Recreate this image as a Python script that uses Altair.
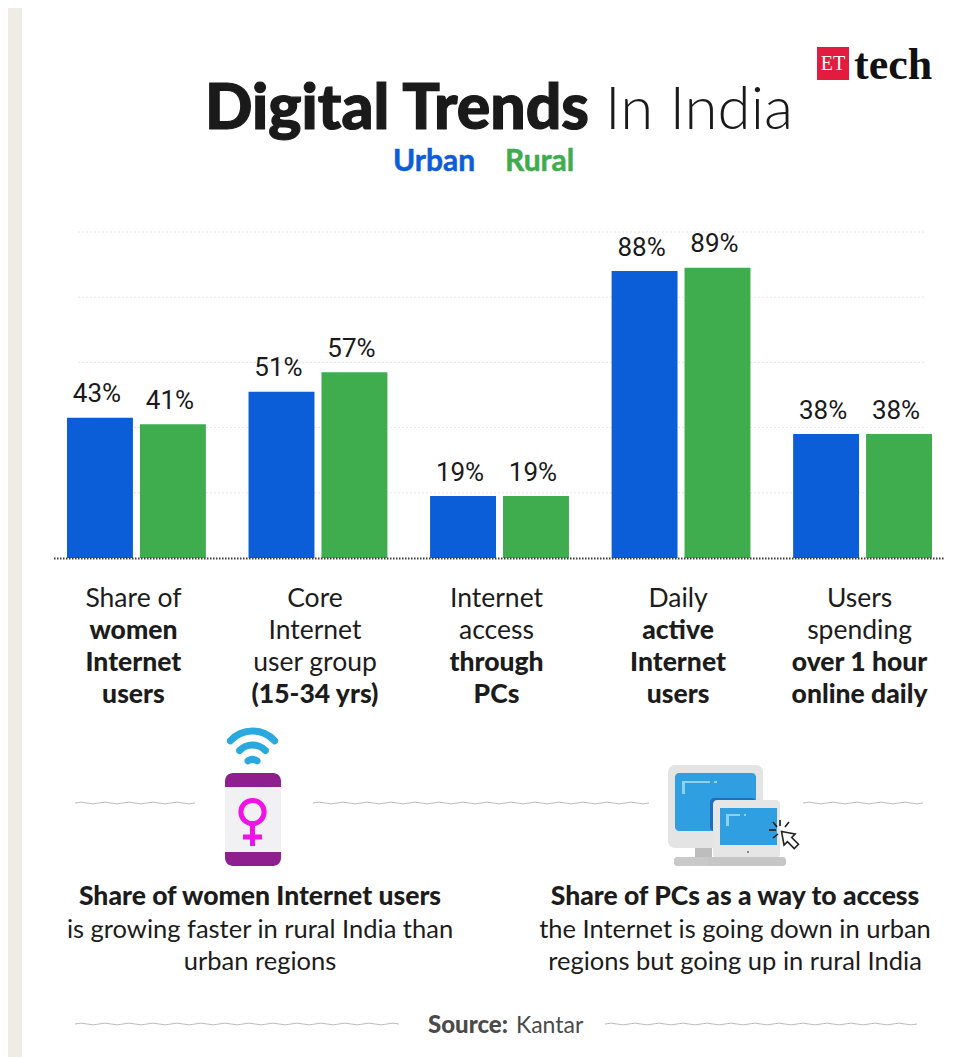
import altair as alt
import pandas as pd
import math

# ---------- data ----------
categories = ["Women users", "Core group", "PC access", "Daily active", "Over 1 hour"]
urban = [43, 51, 19, 88, 38]
rural = [41, 57, 19, 89, 38]
gridlines = [20, 40, 60, 80, 100]
series_names = ["Urban", "Rural"]
series_colors = ["#0b5ed7", "#3fac4d"]

cat_lines = [
    [("Share of", "r"), ("women", "b"), ("Internet", "b"), ("users", "b")],
    [("Core", "r"), ("Internet", "r"), ("user group", "r"), ("(15-34 yrs)", "b")],
    [("Internet", "r"), ("access", "r"), ("through", "b"), ("PCs", "b")],
    [("Daily", "r"), ("active", "b"), ("Internet", "b"), ("users", "b")],
    [("Users", "r"), ("spending", "r"), ("over 1 hour", "b"), ("online daily", "b")],
]

rows = []
for c, u, r in zip(categories, urban, rural):
    rows.append({"cat": c, "series": "Urban", "v": u, "lab": f"{u}%"})
    rows.append({"cat": c, "series": "Rural", "v": r, "lab": f"{r}%"})
bars = pd.DataFrame(rows)

OX, OY = 8, 8  # page margin
W, H = 961, 1049
FONT = "Lato"
INK = "#1c1c1c"

x_enc = alt.X("cat:N", axis=None, title=None,
              scale=alt.Scale(domain=categories, range=[67 - OX, 932 - OX],
                              paddingInner=0.235, paddingOuter=0))
xo_enc = alt.XOffset("series:N", title=None,
                     scale=alt.Scale(domain=series_names, paddingInner=0.096, paddingOuter=0))
y_enc = alt.Y("v:Q", axis=None, title=None,
              scale=alt.Scale(domain=[0, 100], range=[558 - OY, 232 - OY], nice=False, zero=True))
c_enc = alt.Color("series:N", legend=None,
                  scale=alt.Scale(domain=series_names, range=series_colors))

one = pd.DataFrame({"a": [1]})


def rect(x1, x2, y1, y2, color, corner=0):
    return alt.Chart(one).mark_rect(color=color, cornerRadius=corner).encode(
        x=alt.value(x1 - OX), x2=alt.value(x2 - OX), y=alt.value(y1 - OY), y2=alt.value(y2 - OY))


def seg(x1, x2, y1, y2, color, width=1.0, dash=None, cap="butt"):
    kw = {"strokeDash": dash} if dash else {}
    return alt.Chart(one).mark_rule(color=color, strokeWidth=width, strokeCap=cap, **kw).encode(
        x=alt.value(x1 - OX), x2=alt.value(x2 - OX), y=alt.value(y1 - OY), y2=alt.value(y2 - OY))


def label(txt, x, y, size, weight=400, color=INK, align="center", font=FONT, heavy=0):
    kw = {"stroke": color, "strokeWidth": heavy} if heavy else {}
    return alt.Chart(pd.DataFrame({"t": [txt]})).mark_text(
        font=font, fontSize=size, fontWeight=weight, color=color, align=align, baseline="alphabetic", **kw
    ).encode(x=alt.value(x - OX), y=alt.value(y - OY), text="t:N")


def arc(cx, cy, r1, r2, half, color):
    t = 2 * math.pi
    return alt.Chart(one).mark_arc(color=color, radius=r2, radius2=r1, theta=t - half, theta2=t + half,
                                   cornerRadius=(r2 - r1) / 2).encode(
        x=alt.value(cx - OX), y=alt.value(cy - OY))


def wave(x1, x2, y):
    w = x2 - x1
    per, amp = 12.0, 1.7
    n = int(w / per)
    d = "M-1 0"
    for i in range(n):
        xa = -1 + 2 * (i + 0.5) * per / w
        xb = -1 + 2 * (i + 1) * per / w
        sgn = 1 if i % 2 else -1
        d += f"Q{xa:.5f} {sgn * amp * 2 / w:.5f} {xb:.5f} 0"
    return alt.Chart(one).mark_point(shape=d, size=w * w, filled=False, fill=None, stroke="#bcbcbc",
                                     strokeWidth=1, opacity=1).encode(
        x=alt.value((x1 + x2) / 2 - OX), y=alt.value(y - OY))


layers = []
# panel
layers.append(rect(22, OX + W, OY, OY + H, "#ffffff"))

# title + logo
layers += [
    label("Digital Trends", 205, 129, 62.5, 900, "#1a1a1a", "left", heavy=1.2),
    label("In India", 605, 129, 60, 300, "#1a1a1a", "left"),
    label("Urban", 393, 171, 30, 700, series_colors[0], "left", heavy=0.5),
    label("Rural", 505, 171, 30, 700, series_colors[1], "left", heavy=0.5),
    rect(817, 849, 47, 80, "#e31b3f"),
    label("ET", 833, 70, 20, 400, "#ffffff", "center", "Liberation Serif"),
    label("tech", 854, 79, 44, 700, "#111111", "left", "Liberation Serif"),
]

# grid
grid_df = pd.DataFrame({"v": gridlines})
layers.append(alt.Chart(grid_df).mark_rule(color="#e6e6e6", strokeWidth=1, strokeDash=[2, 2]).encode(
    y=y_enc, x=alt.value(78 - OX), x2=alt.value(925 - OX)))

# bars
layers.append(alt.Chart(bars).mark_bar(width=alt.RelativeBandSize(band=1)).encode(
    x=x_enc, xOffset=xo_enc, y=y_enc, color=c_enc))
layers.append(alt.Chart(bars).mark_text(font="Roboto", fontSize=26, color="#1a1a1a",
                                        baseline="alphabetic", dx=-3, dy=-15.5).encode(
    x=x_enc, xOffset=xo_enc, y=y_enc, text="lab:N"))

# baseline
layers.append(seg(54, 945, 558.5, 558.5, "#3a3a3a", 2, [1.5, 1.5]))

# category labels
line_y = [607, 639, 671, 703]
cat_rows = []
for c, lines in zip(categories, cat_lines):
    for i, (t, w) in enumerate(lines):
        cat_rows.append({"cat": c, "row": i, "w": w, "t": t})
cat_df = pd.DataFrame(cat_rows)
for i, yy in enumerate(line_y):
    for w, fw in (("r", 400), ("b", 900)):
        sub = cat_df[(cat_df.row == i) & (cat_df.w == w)]
        if len(sub):
            layers.append(alt.Chart(sub).mark_text(font=FONT, fontSize=26.5, fontWeight=fw, color=INK,
                                                   baseline="alphabetic", dx=-3).encode(
                x=x_enc, y=alt.value(yy - OY), text="t:N"))

# wave dividers
layers += [wave(75, 198, 803), wave(313, 650, 803), wave(803, 925, 803),
           wave(75, 410, 1024), wave(605, 925, 1024)]

# phone icon
layers += [
    arc(252.5, 761, 26.5, 33.5, 0.95, "#29a9dd"),
    arc(252.5, 763, 14.5, 21.5, 1.0, "#29a9dd"),
    arc(252.5, 768, 5, 12, 1.0, "#29a9dd"),
    rect(225, 281, 773, 866, "#8f1f8e", 8),
    rect(225, 281, 787, 852, "#f1f1f3"),
    alt.Chart(one).mark_point(shape="circle", size=540, filled=False, stroke="#f012e6", strokeWidth=5,
                              opacity=1).encode(x=alt.value(252.5 - OX), y=alt.value(812 - OY)),
    seg(252.5, 252.5, 825, 846, "#f012e6", 5),
    seg(243, 262, 837, 837, "#f012e6", 5),
]

# computer icon
layers += [
    rect(695, 712, 845, 860, "#bdbdbd"),
    rect(674, 716, 857, 866, "#c9c9c9", 3),
    rect(668, 763, 765, 848, "#e4e4e4", 7),
    rect(675, 756, 773, 831, "#2f9fe2", 4),
    rect(682, 710, 781, 783, "#8fd0f5"),
    rect(682, 685, 781, 794, "#8fd0f5"),
    rect(714, 717, 781, 783, "#8fd0f5"),
    rect(710, 756, 798, 831, "#1c6fc2", 4),
    rect(713, 780, 800, 858, "#e6e6e6", 4),
    rect(720, 777, 808, 845, "#2f9fe2"),
    rect(726, 740, 814, 816, "#8fd0f5"),
    rect(726, 729, 814, 826, "#8fd0f5"),
    rect(744, 746, 814, 816, "#8fd0f5"),
    rect(708, 786, 857, 866, "#c6c6c6", 3),
    rect(747, 749, 851, 853, "#8a8a8a"),
]
for a in [(773, 777, 822, 827), (780, 780, 820, 826), (789, 785, 822, 827),
          (769, 776, 830, 830), (773, 778, 838, 834)]:
    layers.append(seg(a[0], a[1], a[2], a[3], "#1a1a1a", 1.6))
layers.append(alt.Chart(one).mark_point(
    shape="M-1 -1 L-0.7 0.6 L-0.3 0.2 L0.5 1 L1 0.5 L0.2 -0.3 L0.6 -0.7 Z",
    size=289, filled=True, fill="#ffffff", stroke="#222222", strokeWidth=1.6, opacity=1).encode(
    x=alt.value(790 - OX), y=alt.value(840 - OY)))

# takeaways
layers += [
    label("Share of women Internet users", 260, 905, 26.5, 900),
    label("is growing faster in rural India than", 260, 938, 25.5, 400),
    label("urban regions", 260, 970, 25.5, 400),
    label("Share of PCs as a way to access", 735, 905, 26.5, 900),
    label("the Internet is going down in urban", 735, 938, 25.5, 400),
    label("regions but going up in rural India", 735, 970, 25.5, 400),
    label("Source:", 428, 1033, 24, 900, "#4a4a4a", "left"),
    label("Kantar", 516, 1033, 23, 400, "#4a4a4a", "left"),
]

chart = alt.layer(*layers).properties(
    width=W, height=H, padding=0, autosize=alt.AutoSizeParams(type="none"),
    background="#efece5",
).configure_view(stroke=None)

chart.save("out.html", embed_options={"renderer": "svg", "actions": False})
